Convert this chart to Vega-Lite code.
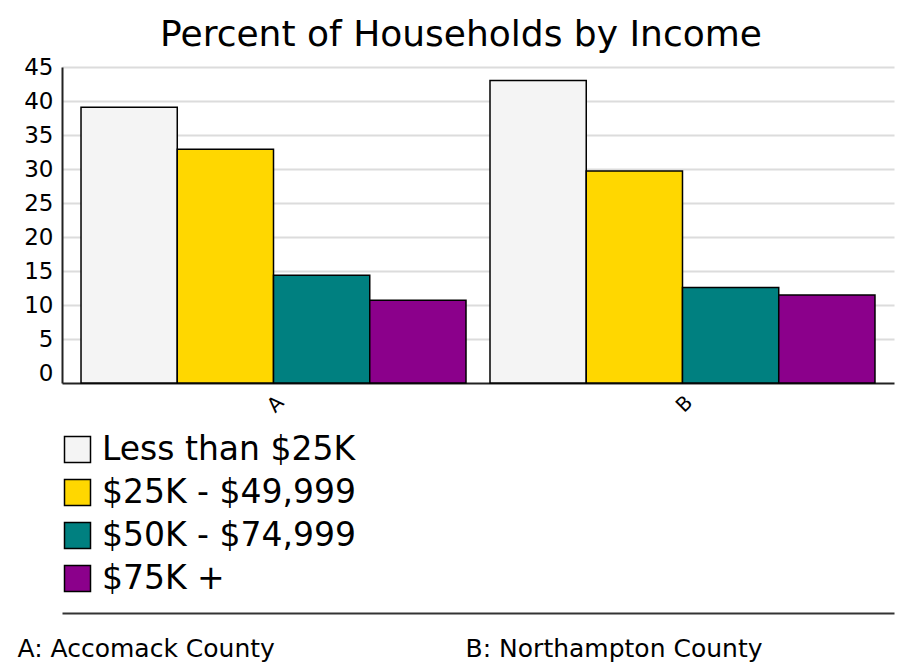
{
  "$schema": "https://vega.github.io/schema/vega-lite/v6.json",
  "width": 832,
  "height": 316,
  "autosize": {"type": "none"},
  "padding": {"left": 62, "top": 67, "right": 4, "bottom": 282},
  "background": "white",
  "title": {
    "text": "Percent of Households by Income",
    "font": "DejaVu Sans",
    "fontSize": 36,
    "fontWeight": "normal",
    "color": "black",
    "anchor": "middle",
    "dx": -17,
    "offset": 2
  },
  "data": {
    "values": [
      {"county": "A", "income": "Less than $25K", "value": 39.1},
      {"county": "A", "income": "$25K - $49,999", "value": 32.9},
      {"county": "A", "income": "$50K - $74,999", "value": 14.4},
      {"county": "A", "income": "$75K +", "value": 10.7},
      {"county": "B", "income": "Less than $25K", "value": 43.0},
      {"county": "B", "income": "$25K - $49,999", "value": 29.7},
      {"county": "B", "income": "$50K - $74,999", "value": 12.6},
      {"county": "B", "income": "$75K +", "value": 11.5}
    ]
  },
  "layer": [
    {
      "mark": {"type": "bar", "stroke": "black", "strokeWidth": 1.5},
      "encoding": {
        "x": {
          "field": "county",
          "type": "nominal",
          "scale": {"paddingInner": 0.0587, "paddingOuter": 0.0465},
          "axis": {
            "title": null,
            "labelAngle": -45,
            "labelFont": "DejaVu Sans",
            "labelFontSize": 20,
            "labelColor": "black",
            "labelPadding": 9,
            "ticks": false,
            "domainColor": "#222",
            "domainWidth": 2,
            "grid": false
          }
        },
        "xOffset": {
          "field": "income",
          "type": "nominal",
          "sort": ["Less than $25K", "$25K - $49,999", "$50K - $74,999", "$75K +"],
          "scale": {"paddingInner": 0, "paddingOuter": 0}
        },
        "y": {
          "field": "value",
          "type": "quantitative",
          "scale": {"domain": [-1.45, 45], "nice": false, "zero": false},
          "axis": {
            "title": null,
            "values": [0, 5, 10, 15, 20, 25, 30, 35, 40, 45],
            "labelOverlap": false,
            "labelFont": "DejaVu Sans",
            "labelFontSize": 23,
            "labelColor": "black",
            "labelPadding": 9,
            "ticks": false,
            "domainColor": "#222",
            "domainWidth": 2,
            "gridColor": {"condition": {"test": "datum.value === 0", "value": "transparent"}, "value": "#dcdcdc"},
            "gridWidth": 2
          }
        },
        "y2": {"datum": -1.45},
        "color": {
          "field": "income",
          "type": "nominal",
          "scale": {
            "domain": ["Less than $25K", "$25K - $49,999", "$50K - $74,999", "$75K +"],
            "range": ["#f4f4f4", "#ffd700", "#008080", "#8b008b"]
          },
          "legend": {
            "title": null,
            "orient": "none",
            "legendX": -1,
            "legendY": 366,
            "padding": 0,
            "symbolType": "square",
            "symbolSize": 676,
            "symbolStrokeColor": "black",
            "symbolStrokeWidth": 1.5,
            "symbolOpacity": 1,
            "labelFont": "DejaVu Sans",
            "labelFontSize": 33,
            "labelColor": "black",
            "labelOffset": 8,
            "rowPadding": 9,
            "labelLimit": 600
          }
        }
      }
    },
    {
      "mark": {"type": "point", "opacity": 0},
      "encoding": {
        "x": {
          "field": "county",
          "type": "nominal",
          "axis": {
            "orient": "bottom",
            "offset": 230,
            "labels": false,
            "ticks": false,
            "grid": false,
            "domainColor": "#333",
            "domainWidth": 2,
            "title": "A: Accomack County\u00a0\u00a0\u00a0\u00a0\u00a0\u00a0\u00a0\u00a0\u00a0\u00a0\u00a0\u00a0\u00a0\u00a0\u00a0\u00a0\u00a0\u00a0\u00a0\u00a0\u00a0\u00a0\u00a0\u00a0B: Northampton County",
            "titleFont": "DejaVu Sans",
            "titleFontSize": 25,
            "titleFontWeight": "normal",
            "titleColor": "black",
            "titleAnchor": "start",
            "titleAlign": "left",
            "titleBaseline": "middle",
            "titleX": -45,
            "titleY": 35
          }
        }
      }
    }
  ],
  "resolve": {"scale": {"x": "independent"}, "axis": {"x": "independent"}},
  "config": {"view": {"stroke": null}}
}
